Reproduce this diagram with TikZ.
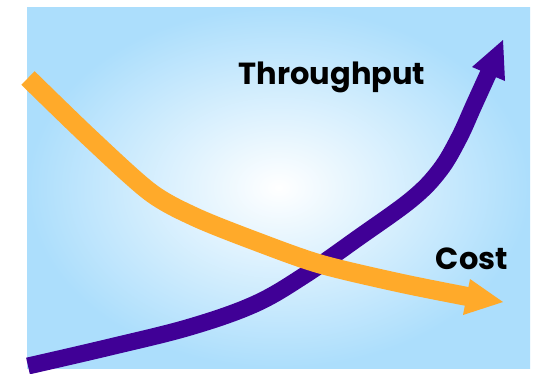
\documentclass[tikz,border=0pt]{standalone}
\usepackage{fontspec}
\newfontfamily\lblfont{Poppins}[UprightFont=* Bold]
\definecolor{bgblue}{RGB}{172,222,252}
\definecolor{orangeline}{RGB}{255,170,42}
\definecolor{purpleline}{RGB}{64,0,150}
\tikzset{
  lbl/.style={font=\lblfont\fontsize{30.5}{34}\selectfont, text=black, inner sep=0pt},
}
\begin{document}
\begin{tikzpicture}[x=1pt,y=-1pt]
\useasboundingbox (0,0) rectangle (533,373);
\fill[white] (0,0) rectangle (533,373);
\shade[inner color=white, outer color=bgblue] (27,7) rectangle (530,368);
% purple (throughput)
\draw[purpleline, line width=17pt] plot[smooth, tension=0.6] coordinates {(28,366) (110,347) (190,327) (255,304) (305,275) (358,238) (412,199) (440,170) (459,138) (474,105) (489,72)};
\fill[purpleline] (472,67) -- (503,40) -- (505,81) -- cycle;
% orange (cost)
\draw[orangeline, line width=19pt] plot[smooth, tension=0.5] coordinates {(28,78) (90,138) (150,192) (195,217) (255,241) (320,264) (400,283) (470,297)};
\fill[orangeline] (470,279) -- (503,302) -- (463,315) -- cycle;
\node[lbl] (tp) at (332,77) {Throughput};
\node[lbl] (cost) at (472,259) {Cost};
\end{tikzpicture}
\end{document}
